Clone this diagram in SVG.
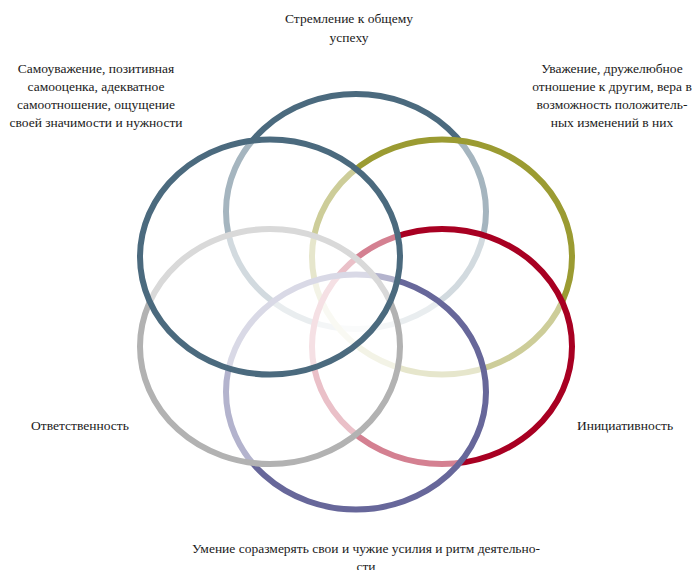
<svg xmlns="http://www.w3.org/2000/svg" width="692" height="570" viewBox="0 0 692 570">
<style>
.ring{fill:#ffffff;fill-opacity:0.5;stroke-width:6}
.lbl{font-family:"Liberation Serif","Times New Roman",serif;font-size:13.5px;fill:#1a1a1a;text-anchor:middle}
</style>
<rect width="692" height="570" fill="#ffffff"/>
<g id="node-top">
<ellipse class="ring" cx="356" cy="211.5" rx="130" ry="117.5" stroke="#4b6a7e"/>
<text class="lbl" x="349" y="23">Стремление к общему</text>
<text class="lbl" x="349" y="42">успеху</text>
</g>
<g id="node-top-right">
<ellipse class="ring" cx="442" cy="257" rx="130" ry="117.5" stroke="#9b9b32"/>
<text class="lbl" x="612" y="73">Уважение, дружелюбное</text>
<text class="lbl" x="612" y="91">отношение к другим, вера в</text>
<text class="lbl" x="612" y="109">возможность положитель-</text>
<text class="lbl" x="612" y="127">ных изменений в них</text>
</g>
<g id="node-right">
<ellipse class="ring" cx="442" cy="346.5" rx="130" ry="117.5" stroke="#a80022"/>
<text class="lbl" x="625" y="430">Инициативность</text>
</g>
<g id="node-bottom">
<ellipse class="ring" cx="356" cy="392" rx="130" ry="117.5" stroke="#67679a"/>
<text class="lbl" x="366" y="553">Умение соразмерять свои и чужие усилия и ритм деятельно-</text>
<text class="lbl" x="366" y="571">сти</text>
</g>
<g id="node-left">
<ellipse class="ring" cx="270" cy="346.5" rx="130" ry="117.5" stroke="#b2b2b2"/>
<text class="lbl" x="80" y="430">Ответственность</text>
</g>
<g id="node-top-left">
<ellipse class="ring" cx="270" cy="257" rx="130" ry="117.5" stroke="#4b6a7e"/>
<text class="lbl" x="96" y="73">Самоуважение, позитивная</text>
<text class="lbl" x="96" y="91">самооценка, адекватное</text>
<text class="lbl" x="96" y="109">самоотношение, ощущение</text>
<text class="lbl" x="96" y="127">своей значимости и нужности</text>
</g>
<g id="connectors"></g>
</svg>
